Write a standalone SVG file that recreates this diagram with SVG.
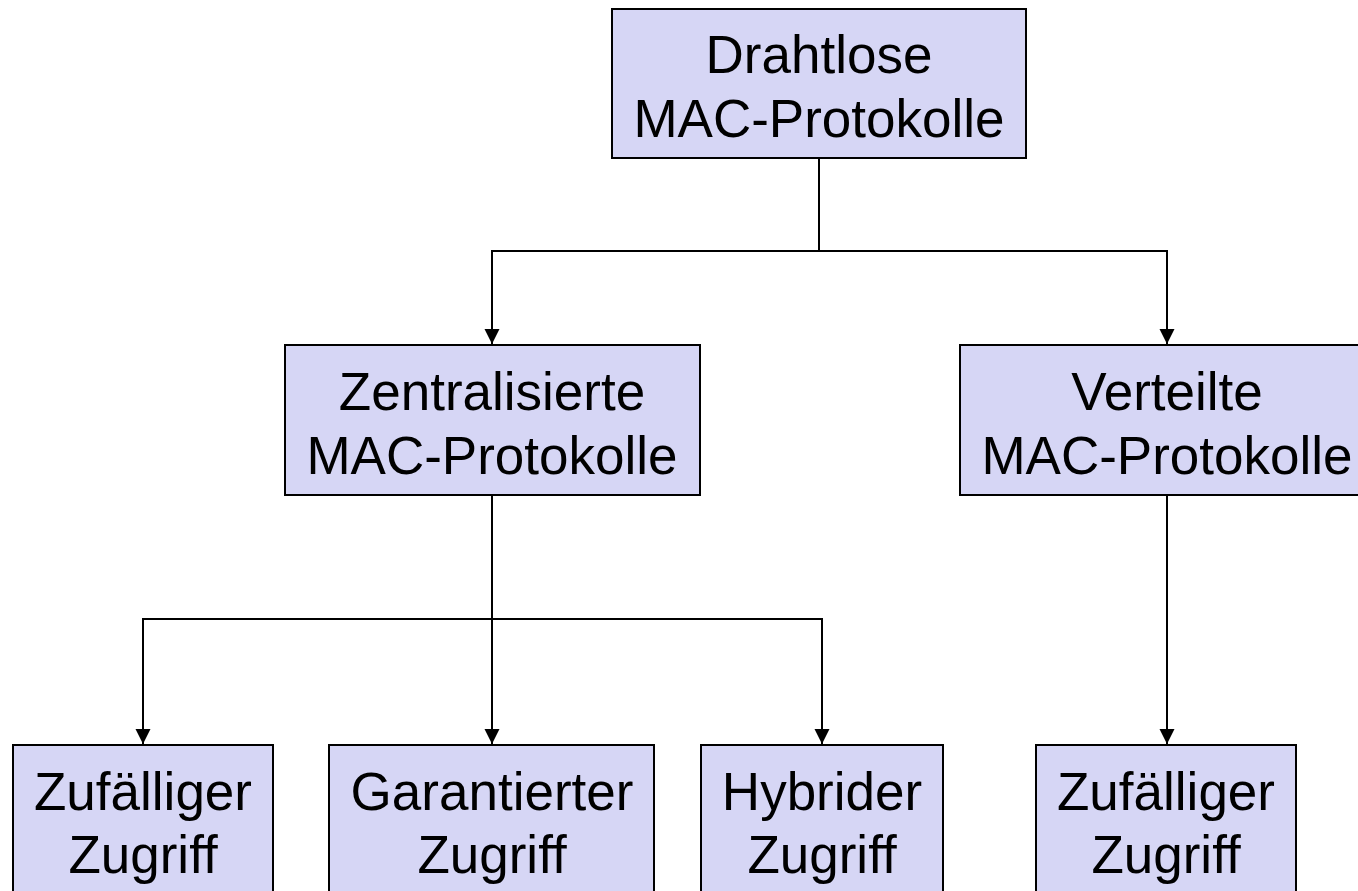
<svg xmlns="http://www.w3.org/2000/svg" width="1358" height="891" viewBox="0 0 1358 891">
<style>
.box{fill:#D6D6F5;stroke:#000;stroke-width:2}
.lbl{font-family:"Liberation Sans",Arial,sans-serif;font-size:53px;fill:#000;text-anchor:middle}
.con{fill:none;stroke:#000;stroke-width:2}
</style>
<defs>
<marker id="ah" markerWidth="16" markerHeight="16" refX="15" refY="8" orient="auto" markerUnits="userSpaceOnUse">
<path d="M0,0.5 L15,8 L0,15.5 Z" fill="#000"/>
</marker>
</defs>
<rect width="1358" height="891" fill="#fff"/>
<g id="connectors">
<path class="con" d="M819,158 V251"/>
<path class="con" d="M819,251 H492 V344" marker-end="url(#ah)"/>
<path class="con" d="M819,251 H1167 V344" marker-end="url(#ah)"/>
<path class="con" d="M492,495 V619"/>
<path class="con" d="M492,619 H143 V744" marker-end="url(#ah)"/>
<path class="con" d="M492,619 V744" marker-end="url(#ah)"/>
<path class="con" d="M492,619 H822 V744" marker-end="url(#ah)"/>
<path class="con" d="M1167,495 V744" marker-end="url(#ah)"/>
</g>
<g id="n-root">
<rect class="box" x="612" y="9" width="414" height="149"/>
<text class="lbl" x="819" y="73">Drahtlose</text>
<text class="lbl" x="819" y="137">MAC-Protokolle</text>
</g>
<g id="n-zentral">
<rect class="box" x="285" y="345" width="415" height="150"/>
<text class="lbl" x="492" y="410">Zentralisierte</text>
<text class="lbl" x="492" y="474">MAC-Protokolle</text>
</g>
<g id="n-verteilt">
<rect class="box" x="960" y="345" width="414" height="150"/>
<text class="lbl" x="1167" y="410">Verteilte</text>
<text class="lbl" x="1167" y="474">MAC-Protokolle</text>
</g>
<g id="n-zufall1">
<rect class="box" x="13" y="745" width="260" height="160"/>
<text class="lbl" x="143" y="810">Zufälliger</text>
<text class="lbl" x="143" y="873">Zugriff</text>
</g>
<g id="n-garantiert">
<rect class="box" x="329" y="745" width="325" height="160"/>
<text class="lbl" x="492" y="810">Garantierter</text>
<text class="lbl" x="492" y="873">Zugriff</text>
</g>
<g id="n-hybrid">
<rect class="box" x="701" y="745" width="242" height="160"/>
<text class="lbl" x="822" y="810">Hybrider</text>
<text class="lbl" x="822" y="873">Zugriff</text>
</g>
<g id="n-zufall2">
<rect class="box" x="1036" y="745" width="260" height="160"/>
<text class="lbl" x="1166" y="810">Zufälliger</text>
<text class="lbl" x="1166" y="873">Zugriff</text>
</g>
</svg>
